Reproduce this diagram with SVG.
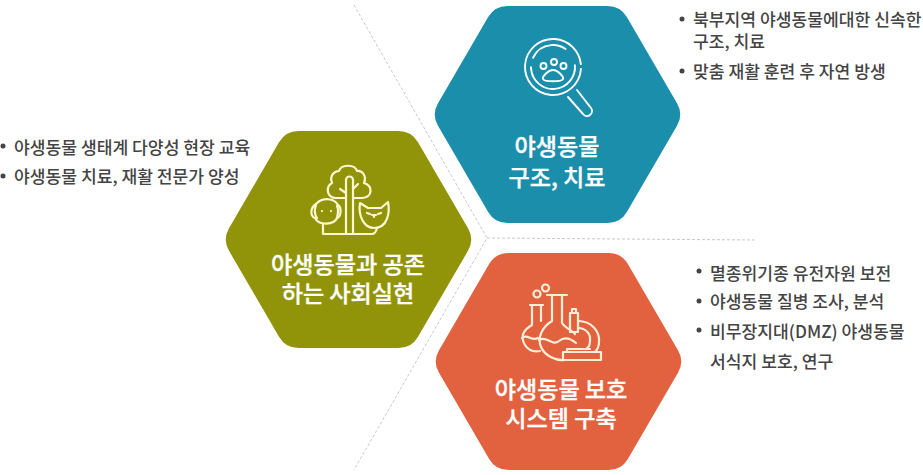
<svg xmlns="http://www.w3.org/2000/svg" width="923" height="475" viewBox="0 0 923 475">
<style>
text{font-family:"Noto Sans CJK KR","Noto Sans",sans-serif}
.t{font-size:23.100px;font-weight:500;fill:#fff;text-anchor:middle;stroke:#fff;stroke-width:.3}
.b{font-size:17.150px;font-weight:500;fill:#444}
.d{fill:#444}
.i{fill:none;stroke-width:2.200;stroke-linecap:round;stroke-linejoin:round}
.c{fill:none;stroke:#c8c8c8;stroke-width:1;stroke-dasharray:3 2}
</style>
<defs>
<path id="hex" d="M-50-108.500H50A22.500 22.500 0 0 1 69.500-97.200L119.500-11.300A22.500 22.500 0 0 1 119.500 11.300L69.500 97.200A22.500 22.500 0 0 1 50 108.500H-50A22.500 22.500 0 0 1-69.500 97.200L-119.500 11.300A22.500 22.500 0 0 1-119.500-11.300L-69.500-97.200A22.500 22.500 0 0 1-50-108.500Z"/>
</defs>
<rect width="923" height="475" fill="#fff"/>
<g id="connectors">
<path class="c" d="M354 5L487 238L354 470"/>
<path class="c" d="M487 238L755 240"/>
</g>
<g id="node-coexist">
<use href="#hex" transform="translate(348.500 239.500)" fill="#919409"/>
<g class="i" stroke="#fdf6d0">
<path d="M346 198H336C327 198 325 187 332 183C329 175 335 171 339 171C341 164 355 164 357 171C362 170 367 176 364 183C373 186 373 197 362 198H353"/>
<path d="M346 234V180A3.500 3.500 0 0 1 353 180V234"/>
<path d="M346 193L340 189M353 189L358 184"/>
<path d="M323 224V234H372C375 234 376 232 377 228"/>
<path d="M316 204C323 197 334 198 338 205C342 208 341 217 337 218C334 225 319 226 315 218C310 216 310 208 316 204Z"/>
<path d="M316 205C314 210 315 215 317 218M337 206C339 210 338 214 337 218"/>
<path d="M360 203L368 208H381L388 202C390 212 388 228 374 228C364 228 358 216 360 203Z"/>
<path d="M367 213L370 214M378 214L381 213M372 215H376M374 215V217"/>
<path d="M322 211V211.100M331 211V211.100"/>
</g>
<text class="t" x="348" y="273">야생동물과 공존</text>
<text class="t" x="348" y="302">하는 사회실현</text>
</g>
<g id="node-rescue">
<use href="#hex" transform="translate(557.500 114.500)" fill="#1a8eaa"/>
<g class="i" stroke="#fff" style="stroke-width:1.900">
<circle cx="553" cy="67" r="28" pathLength="360" stroke-dasharray="350 10" transform="rotate(4 553 67)"/>
<circle cx="553" cy="67" r="22" pathLength="360" stroke-dasharray="185 25 100 50" transform="rotate(-5 553 67)"/>
<circle cx="543.500" cy="66" r="3"/><circle cx="554" cy="62" r="3"/><circle cx="563.500" cy="66" r="3"/>
<path d="M553 70C558 70 564 77 563 79C562 82 544 82 543 79C542 77 548 70 553 70Z"/>
<path d="M568 97L583 114A4.500 4.500 0 0 0 591 108L577 90"/>
</g>
<text class="t" x="557" y="155">야생동물</text>
<text class="t" x="557" y="186">구조, 치료</text>
</g>
<g id="node-system">
<use href="#hex" transform="translate(558.500 361.500)" fill="#e26240"/>
<g class="i" stroke="#fdeed8">
<circle cx="545.500" cy="288" r="3.500"/><circle cx="537" cy="294" r="3.500"/>
<path d="M530 305H543M532 305V325C523 330 520 337 525 345C528 350 534 352 540 351M541 305V321"/>
<path d="M522 338C527 333 532 342 538 338"/>
<path d="M547 295H567M552 295V321C542 327 537 338 541 347C545 356 556 361 565 360M562 295V323C565 328 572 330 575 334"/>
<path d="M539 340C547 335 552 347 559 341C564 337 570 338 576 343"/>
<path d="M563 352H601V360H563ZM567 352V349H590"/>
<path d="M570 321V332H578V313H570V321M572 313V309H576V313"/>
<path d="M578 321C592 321 600 332 599 342C599 346 597 350 595 352M578 328C586 328 591 334 590 341C590 345 588 348 586 349"/>
</g>
<text class="t" x="561" y="398">야생동물 보호</text>
<text class="t" x="561" y="427">시스템 구축</text>
</g>
<g id="list-left">
<circle class="d" cx="3" cy="146" r="2.500"/><circle class="d" cx="3" cy="176" r="2.500"/>
<text class="b" x="14" y="154">야생동물 생태계 다양성 현장 교육</text>
<text class="b" x="14" y="183">야생동물 치료, 재활 전문가 양성</text>
</g>
<g id="list-rescue">
<circle class="d" cx="682" cy="19" r="2.500"/><circle class="d" cx="682" cy="71" r="2.500"/>
<text class="b" x="693" y="26">북부지역 야생동물에대한 신속한</text>
<text class="b" x="693" y="48">구조, 치료</text>
<text class="b" x="693" y="78">맞춤 재활 훈련 후 자연 방생</text>
</g>
<g id="list-system">
<circle class="d" cx="699" cy="271" r="2.500"/><circle class="d" cx="699" cy="301" r="2.500"/><circle class="d" cx="699" cy="330" r="2.500"/>
<text class="b" x="710" y="280">멸종위기종 유전자원 보전</text>
<text class="b" x="710" y="308">야생동물 질병 조사, 분석</text>
<text class="b" x="710" y="338">비무장지대(DMZ) 야생동물</text>
<text class="b" x="710" y="368">서식지 보호, 연구</text>
</g>
</svg>
